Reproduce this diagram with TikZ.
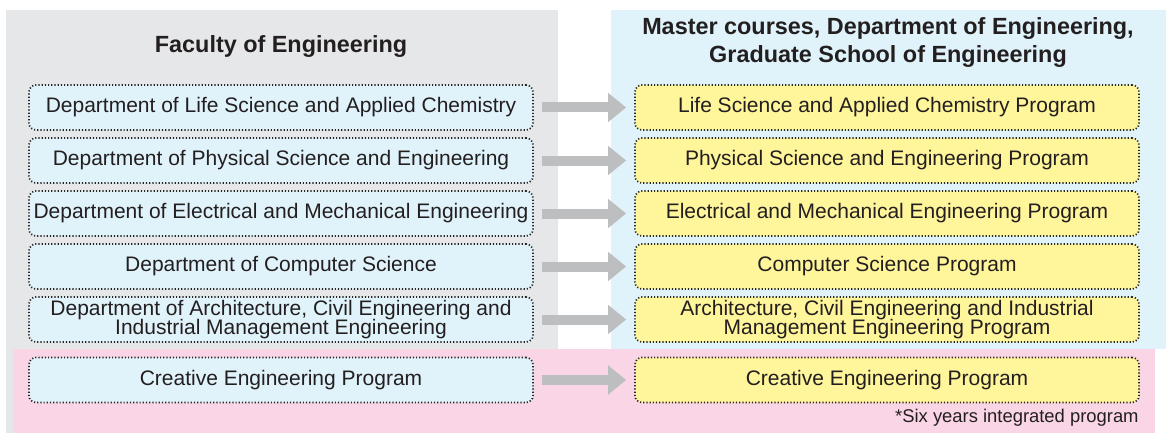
\documentclass[tikz,border=0pt]{standalone}
\usepackage{fontspec}
\setmainfont{Liberation Sans}
\usetikzlibrary{arrows.meta}
\definecolor{panelgray}{HTML}{E6E7E8}
\definecolor{panelblue}{HTML}{E0F3FA}
\definecolor{panelpink}{HTML}{F9D5E6}
\definecolor{boxblue}{HTML}{E0F3FA}
\definecolor{boxyellow}{HTML}{FFF59B}
\definecolor{arrgray}{HTML}{BCBEC0}
\definecolor{txt}{HTML}{231F20}
\tikzstyle{dept}=[shape=rectangle,
                rounded corners=3.5pt,
                draw=black!85,
                line width=0.85pt,
                dash pattern=on 0.6pt off 1pt,
                fill=boxblue,
                minimum height=22.5pt,
                minimum width=252pt,
                inner sep=0pt,
                align=center,
                text=txt,
                font=\fontsize{10.5}{10}\selectfont]
\tikzstyle{prog}=[dept,
                fill=boxyellow]
\tikzstyle{head}=[align=center,
                text=txt,
                font=\fontsize{11.7}{14}\selectfont\bfseries]
\tikzstyle{arr}=[-{Triangle[length=9pt,width=14pt]},
                draw=arrgray,
                line width=5pt,
                shorten <=4pt,
                shorten >=4pt]

\begin{document}
\begin{tikzpicture}[x=0.5pt,y=-0.5pt]
\useasboundingbox (0,0) rectangle (1166,433);

% panels
\fill[panelgray] (6,10) rectangle (558,433);
\fill[panelblue] (611,10) rectangle (1166,349);
\fill[panelpink] (13,349) rectangle (1155,433);

% headings
\node[head,anchor=base] (hl) at (281,53) {Faculty of Engineering};
\node[head,anchor=base] (hr) at (888,35) {Master courses, Department of Engineering,};
\node[head,anchor=base] (hr2) at (888,63) {Graduate School of Engineering};

% faculty departments
\node[dept] (l1) at (281,107.5) {Department of Life Science and Applied Chemistry};
\node[dept] (l2) at (281,160.5) {Department of Physical Science and Engineering};
\node[dept] (l3) at (281,213.5) {Department of Electrical and Mechanical Engineering};
\node[dept] (l4) at (281,266.5) {Department of Computer Science};
\node[dept] (l5) at (281,319.5) {Department of Architecture, Civil Engineering and\\[-0.8pt]Industrial Management Engineering};
\node[dept] (l6) at (281,380) {Creative Engineering Program};

% master programs
\node[prog] (r1) at (887,107.5) {Life Science and Applied Chemistry Program};
\node[prog] (r2) at (887,160.5) {Physical Science and Engineering Program};
\node[prog] (r3) at (887,213.5) {Electrical and Mechanical Engineering Program};
\node[prog] (r4) at (887,266.5) {Computer Science Program};
\node[prog] (r5) at (887,319.5) {Architecture, Civil Engineering and Industrial\\[-0.8pt]Management Engineering Program};
\node[prog] (r6) at (887,380) {Creative Engineering Program};

\node[anchor=base east,inner sep=0pt,text=txt,font=\fontsize{9.2}{11}\selectfont] (note) at (1139,422) {*Six years integrated program};

% paths
\draw[arr] (l1.east) -- (r1.west);
\draw[arr] (l2.east) -- (r2.west);
\draw[arr] (l3.east) -- (r3.west);
\draw[arr] (l4.east) -- (r4.west);
\draw[arr] (l5.east) -- (r5.west);
\draw[arr] (l6.east) -- (r6.west);

\end{tikzpicture}
\end{document}
